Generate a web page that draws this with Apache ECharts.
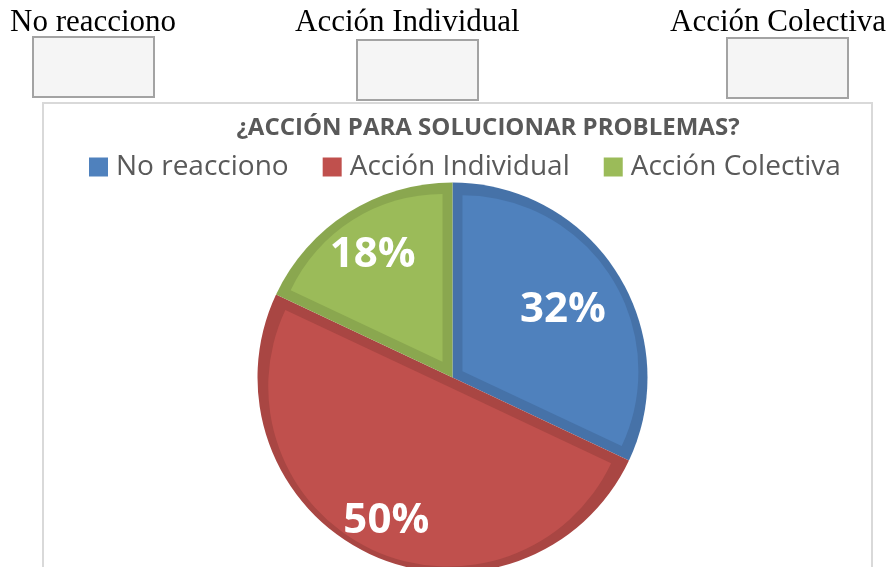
<!DOCTYPE html>
<html>
<head>
<meta charset="utf-8">
<script src="https://cdn.jsdelivr.net/npm/echarts@6/dist/echarts.min.js"></script>
<style>
  html, body { margin: 0; padding: 0; background: #fff; }
  #main { width: 894px; height: 567px; }
</style>
</head>
<body>
<div id="main"></div>
<script>
const categories = ['No reacciono', 'Acción Individual', 'Acción Colectiva'];
const values = [32, 50, 18];
const colors = ['#4F81BD', '#C0504D', '#9BBB59'];
const borderColors = ['#4672A8', '#A94643', '#8AA74F'];
// where excel put each label, as a share of the radius
const labelRadius = [0.655, 0.782, 0.749];

const chartDom = document.getElementById('main');
const myChart = echarts.init(chartDom);

const R = 195;      // outer radius
const band = 10;    // darker edge band width
const cx = 452.5, cy = 377.5;
const total = values.reduce((a, b) => a + b, 0);
const midAngles = [];
let acc = 0;
values.forEach(v => {
  midAngles.push((acc + v / 2) / total * Math.PI * 2);
  acc += v;
});

const topBox = (x, y) => ({
  type: 'rect',
  shape: { x: x, y: y, width: 121, height: 60 },
  style: { fill: '#f5f5f5', stroke: '#a3a3a3', lineWidth: 2 },
  z: 10
});
const topText = (x, text) => ({
  type: 'text',
  x: x, y: 38,
  style: { text: text, font: '31px "Liberation Serif"', fill: '#000', textVerticalAlign: 'bottom' },
  z: 11
});

// one pie per slice, nudged out along its bisector so the darker pie below
// shows as an even band on the straight edges
const sliceSeries = categories.map((cat, i) => {
  const half = values[i] / total * Math.PI;
  const d = band / Math.sin(Math.min(half, Math.PI / 2));
  const spread = d * (1 - Math.cos(Math.min(half, Math.PI / 2)));
  const r = R - d - band + spread / 2;
  const lr = labelRadius[i] * R - d - r / 2;
  return {
    type: 'pie',
    center: [cx + d * Math.sin(midAngles[i]), cy - d * Math.cos(midAngles[i])],
    radius: r,
    startAngle: 90,
    clockwise: true,
    silent: true,
    z: 2,
    data: categories.map((c, j) => ({
      name: c,
      value: values[j],
      itemStyle: { color: j === i ? colors[j] : 'rgba(0,0,0,0)' },
      label: { show: j === i }
    })),
    label: {
      position: 'inside',
      formatter: p => p.value + '%',
      fontFamily: 'Open Sans',
      fontWeight: 'bold',
      fontSize: 42,
      color: '#fff'
    },
    labelLine: { show: false },
    labelLayout: function () {
      return { dx: Math.sin(midAngles[i]) * lr, dy: -Math.cos(midAngles[i]) * lr + 3 };
    },
    emphasis: { disabled: true }
  };
});

const option = {
  animation: false,
  title: {
    text: '¿ACCIÓN PARA SOLUCIONAR PROBLEMAS?',
    left: 483,
    textAlign: 'center',
    top: 111,
    textStyle: { fontFamily: 'Open Sans', fontWeight: 'bold', fontSize: 24, color: '#595959' }
  },
  legend: {
    data: categories.map((c, i) => ({ name: c, itemStyle: { color: colors[i] } })),
    left: 89,
    top: 153,
    padding: 0,
    icon: 'rect',
    itemWidth: 19,
    itemHeight: 19,
    itemGap: 34,
    textStyle: { fontFamily: 'Open Sans', fontSize: 28, color: '#595959', padding: [0, 0, 0, 3] }
  },
  graphic: [
    {
      type: 'rect',
      shape: { x: 43, y: 103, width: 829, height: 500 },
      style: { fill: '#fff', stroke: '#d9d9d9', lineWidth: 2 },
      z: -10
    },
    topText(10, 'No reacciono'),
    topText(295, 'Acción Individual'),
    topText(670, 'Acción Colectiva'),
    topBox(33, 37),
    topBox(357, 40),
    topBox(727, 38)
  ],
  series: [
    {
      // darker rim underneath
      type: 'pie',
      center: [cx, cy],
      radius: R,
      startAngle: 90,
      clockwise: true,
      silent: true,
      z: 1,
      data: categories.map((c, i) => ({
        name: c,
        value: values[i],
        itemStyle: { color: borderColors[i] }
      })),
      label: { show: false },
      labelLine: { show: false },
      emphasis: { disabled: true }
    }
  ].concat(sliceSeries)
};
option && myChart.setOption(option);
</script>
</body>
</html>
